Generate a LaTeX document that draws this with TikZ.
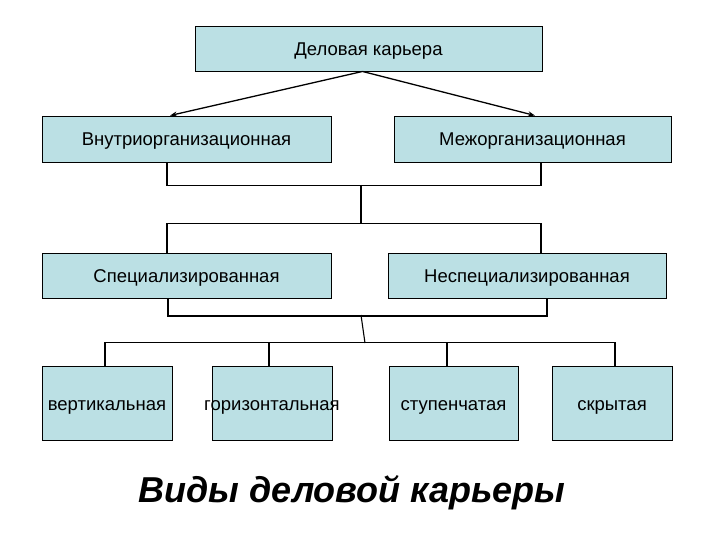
\documentclass[tikz,border=0pt]{standalone}
\usepackage{fontspec}
\setmainfont{Liberation Sans}
\usetikzlibrary{arrows.meta}
\definecolor{boxfill}{RGB}{187,224,228}
\tikzset{
  boxfont/.style={font=\fontsize{18.5}{21}\selectfont, text height=15.5pt, text depth=1.5pt},
  box/.style={draw=black, fill=boxfill, line width=0.9pt, inner sep=0pt, boxfont},
  link/.style={line width=1.1pt},
  arr/.style={line width=1.3pt, -{Stealth[length=7pt,width=5pt]}},
}
\begin{document}
\begin{tikzpicture}[x=1pt,y=-1pt]
  \useasboundingbox (0,0) rectangle (720,540);

  % boxes
  \node[box, minimum width=347pt, minimum height=45pt] (kar) at (368.5,48.5) {Деловая карьера};
  \node[box, minimum width=289pt, minimum height=46pt] (vnut) at (186.5,139) {Внутриорганизационная};
  \node[box, minimum width=277pt, minimum height=46pt] (mezh) at (532.5,139) {Межорганизационная};
  \node[box, minimum width=289pt, minimum height=45pt] (spec) at (186.5,275.5) {Специализированная};
  \node[box, minimum width=278pt, minimum height=45pt] (nespec) at (527,275.5) {Неспециализированная};
  \node[box, minimum width=130pt, minimum height=74pt] (vert) at (107,403) {вертикальная};
  \node[box, minimum width=120pt, minimum height=74pt,
    label={[boxfont]center:горизонтальная}] (gor) at (272,403) {};
  \node[box, minimum width=129pt, minimum height=74pt] (stup) at (453.5,403) {ступенчатая};
  \node[box, minimum width=120pt, minimum height=74pt] (skr) at (612,403) {скрытая};

  % arrows
  \draw[arr] ([xshift=-6pt]kar.south) -- ([xshift=-16.5pt]vnut.north);
  \draw[arr] ([xshift=-6pt]kar.south) -- ([xshift=2.5pt]mezh.north);

  % brackets
  \coordinate (j1) at (361,185);
  \coordinate (j2) at (361,224);
  \coordinate (j3) at (361,315);
  \coordinate (j4) at (365,343);
  \draw[link] ([xshift=-19.5pt]vnut.south) -- ++(0,23) -| ([xshift=8.5pt]mezh.south);
  \draw[link] (j1) -- (j2);
  \draw[link] ([xshift=-19.5pt]spec.north) -- ++(0,-29) -| ([xshift=14pt]nespec.north);
  \draw[link] ([xshift=-18.5pt]spec.south) -- ++(0,17.5) -| ([xshift=20pt]nespec.south);
  \draw[link] (j3) -- (j4);
  \draw[link] ([xshift=-2pt]vert.north) -- ++(0,-23) -| ([xshift=3pt]skr.north);
  \draw[link] ([xshift=-3pt]gor.north) -- ++(0,-23);
  \draw[link] ([xshift=-6.5pt]stup.north) -- ++(0,-23);

  % title
  \node[font=\fontsize{36}{40}\selectfont\bfseries\itshape] (title) at (352,493) {Виды деловой карьеры};
\end{tikzpicture}
\end{document}
